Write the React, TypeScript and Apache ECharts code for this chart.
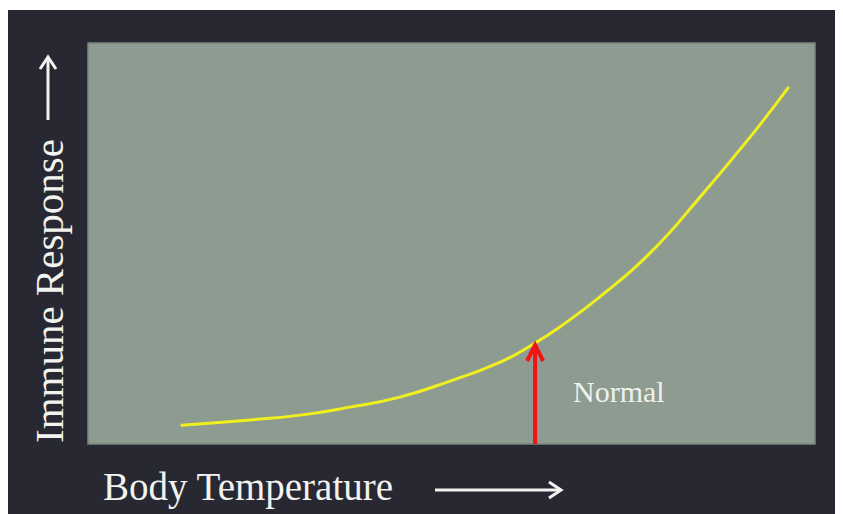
import React, { useEffect, useRef } from "react";
import * as echarts from "echarts";

// Body temperature (relative scale 0-100) vs immune response (relative 0-100)
const temperature = [12.9, 22.3, 29.2, 36.0, 42.9, 49.8, 56.7, 61.5, 64.9, 70.4, 77.3, 84.2, 91.1, 96.3];
const immuneResponse = [4.7, 6.0, 7.2, 9.2, 11.7, 15.7, 20.4, 25.2, 29.2, 36.7, 47.6, 61.6, 76.6, 88.8];

// "Normal" marker
const normalTemp = 61.5;
const normalResponse = 24.7;
const headHalfWidth = 1.1;
const headDepth = 4.0;

const xTitle = "Body Temperature";
const yTitle = "Immune Response";
const normalLabel = "Normal";

export default function App() {
  const ref = useRef<HTMLDivElement>(null);

  useEffect(() => {
    if (!ref.current) return;
    const chart = echarts.init(ref.current, null, { renderer: "svg" });
    const curve = temperature.map((t, i) => [t, immuneResponse[i]]);
    const serif = "'Liberation Serif', 'Times New Roman', serif";
    const white = "#f2f2ef";

    chart.setOption({
      animation: false,
      backgroundColor: "#272832",
      grid: {
        show: true,
        left: 80,
        top: 33,
        width: 727,
        height: 401,
        backgroundColor: "#8e9b90",
        borderColor: "#7a857c",
        borderWidth: 1.5,
      },
      xAxis: {
        type: "value",
        min: 0,
        max: 100,
        show: false,
      },
      yAxis: {
        type: "value",
        min: 0,
        max: 100,
        show: false,
      },
      series: [
        {
          type: "line",
          data: curve,
          smooth: 0.5,
          symbol: "none",
          lineStyle: { color: "#f0f01e", width: 3, cap: "round" },
          z: 3,
        },
        {
          type: "line",
          data: [
            [normalTemp, 0],
            [normalTemp, normalResponse],
          ],
          symbol: "none",
          lineStyle: { color: "#f01414", width: 4 },
          z: 4,
        },
        {
          type: "line",
          data: [
            [normalTemp - headHalfWidth, normalResponse - headDepth],
            [normalTemp, normalResponse],
            [normalTemp + headHalfWidth, normalResponse - headDepth],
          ],
          symbol: "none",
          lineStyle: { color: "#f01414", width: 4, join: "miter" },
          z: 4,
        },
      ],
      graphic: [
        {
          type: "text",
          left: 95,
          top: 457,
          style: {
            text: xTitle,
            fill: white,
            font: `39px ${serif}`,
            letterSpacing: 0.3,
          },
        },
        {
          type: "line",
          shape: { x1: 427, y1: 480, x2: 553, y2: 480 },
          style: { stroke: white, lineWidth: 3 },
        },
        {
          type: "polyline",
          shape: { points: [[541, 472], [553, 480], [541, 488]] },
          style: { stroke: white, lineWidth: 3, fill: null },
        },
        {
          type: "text",
          x: 41,
          y: 281,
          rotation: Math.PI / 2,
          style: {
            text: yTitle,
            fill: white,
            font: `41px ${serif}`,
            align: "center",
            verticalAlign: "middle",
          },
        },
        {
          type: "line",
          shape: { x1: 40, y1: 110, x2: 40, y2: 47 },
          style: { stroke: white, lineWidth: 3 },
        },
        {
          type: "polyline",
          shape: { points: [[32, 59], [40, 47], [48, 59]] },
          style: { stroke: white, lineWidth: 3, fill: null },
        },
        {
          type: "text",
          x: 565,
          y: 381,
          style: {
            text: normalLabel,
            fill: "#eef1ec",
            font: `30px ${serif}`,
            verticalAlign: "middle",
          },
        },
      ],
    });
    return () => chart.dispose();
  }, []);

  return (
    <div style={{ paddingTop: 2 }}>
      <div ref={ref} style={{ width: 835, height: 504 }} />
    </div>
  );
}
